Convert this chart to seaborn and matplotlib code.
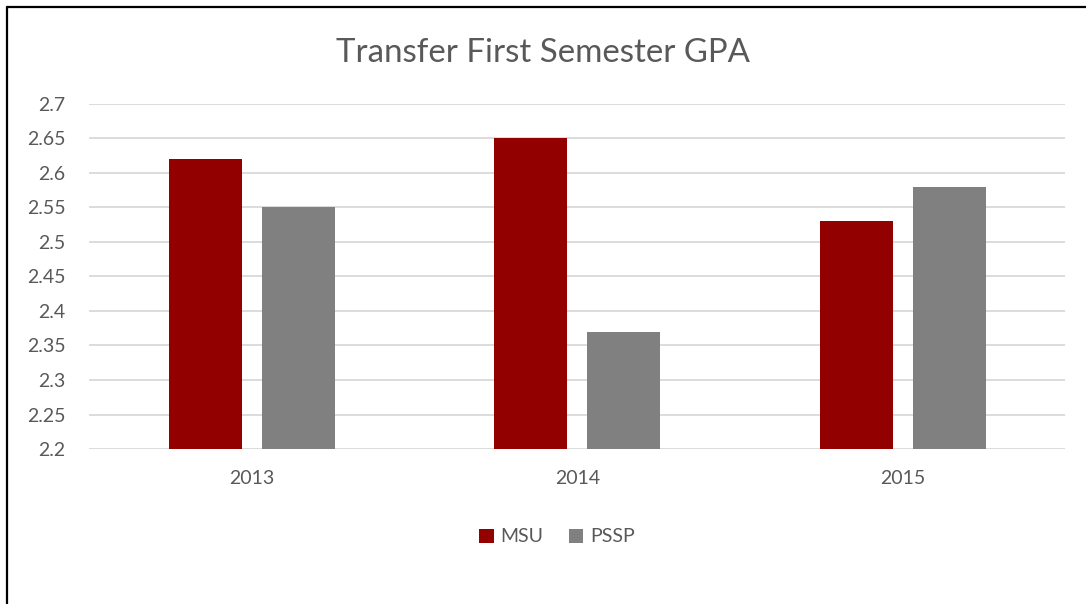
import matplotlib
matplotlib.use("Agg")
import matplotlib.pyplot as plt
from matplotlib.lines import Line2D
from matplotlib.patches import Patch
import seaborn as sns
import pandas as pd

years = ["2013", "2014", "2015"]
msu_gpa = [2.62, 2.65, 2.53]
pssp_gpa = [2.55, 2.37, 2.58]
groups = ["MSU", "PSSP"]
y_ticks = [2.2, 2.25, 2.3, 2.35, 2.4, 2.45, 2.5, 2.55, 2.6, 2.65, 2.7]
y_tick_labels = ["2.2", "2.25", "2.3", "2.35", "2.4", "2.45", "2.5", "2.55", "2.6", "2.65", "2.7"]

colors = {"MSU": "#920000", "PSSP": "#808080"}
text_color = "#595959"

df = pd.DataFrame({
    "year": years * 2,
    "gpa": msu_gpa + pssp_gpa,
    "group": ["MSU"] * len(years) + ["PSSP"] * len(years),
})

sns.set_theme(style="white")
plt.rcParams["font.family"] = ["Lato", "DejaVu Sans"]

fig = plt.figure(figsize=(10.86, 6.04), dpi=100)
ax = fig.add_axes([0.082, 0.2566, 0.899, 0.5713])

sns.barplot(data=df, x="year", y="gpa", hue="group", order=years,
            hue_order=groups, palette=colors, width=0.572, gap=0.215,
            legend=False, ax=ax, saturation=1, linewidth=0)

# bars drawn from a 0 baseline get clipped at the axis floor like the original
ax.set_ylim(2.2, 2.7)
ax.set_xlim(-0.5, 2.5)
ax.set_yticks(y_ticks)
ax.set_yticklabels(y_tick_labels)
ax.yaxis.grid(True, color="#D9D9D9", linewidth=1.3)
ax.set_axisbelow(True)
for s in ax.spines.values():
    s.set_visible(False)
ax.tick_params(axis="y", length=0, pad=17, labelsize=14, labelcolor=text_color)
ax.tick_params(axis="x", length=0, pad=15, labelsize=14, labelcolor=text_color)
ax.set_xlabel("")
ax.set_ylabel("")

fig.text(0.5, 0.912, "Transfer First Semester GPA", ha="center", va="center",
         fontsize=23.8, color=text_color)

handles = [Patch(facecolor=colors[g], edgecolor="none") for g in groups]
fig.legend(handles, groups, loc="center", bbox_to_anchor=(0.513, 0.111),
           ncol=2, frameon=False, fontsize=14, labelcolor=text_color,
           handlelength=0.75, handleheight=0.75, handletextpad=0.35,
           columnspacing=1.3)

# partial frame (top and left edges)
fig.add_artist(Line2D([0.0064, 1.0], [0.9876, 0.9876], color="black",
                      linewidth=1.6, transform=fig.transFigure))
fig.add_artist(Line2D([0.0064, 0.0064], [0.0, 0.9876], color="black",
                      linewidth=1.6, transform=fig.transFigure))

fig.savefig("out.png", dpi=100)
